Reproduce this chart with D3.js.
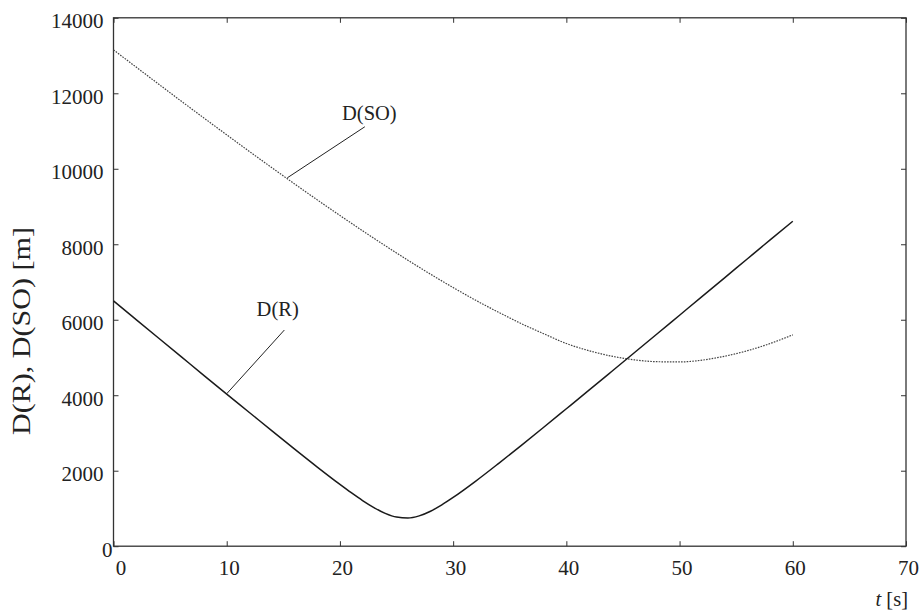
<!DOCTYPE html>
<html>
<head>
<meta charset="utf-8">
<script src="https://cdn.jsdelivr.net/npm/d3@7"></script>
<style>
  html, body { margin: 0; padding: 0; background: #fff; }
  svg { display: block; }
  text { font-family: "Liberation Serif", "DejaVu Serif", serif; fill: #222; }
</style>
</head>
<body>
<svg id="chart" width="923" height="612"></svg>
<script>
// ---- data ----
const tR = [0,2,4,6,8,10,12,14,16,18,20,21,22,23,24,25,26,27,28,29,30,32,34,36,38,40,42,44,46,48,50,52,54,56,58,60];
const dR = [6500,6005,5510,5015,4520,4030,3543,3054,2570,2095,1636,1417,1210,1024,871,772,747,804,927,1095,1291,1725,2189,2666,3151,3642,4134,4629,5125,5622,6120,6618,7117,7617,8116,8610];

const tSO = [0,2,4,6,8,10,12,14,16,18,20,22,24,26,28,30,32,34,36,38,40,42,44,46,48,50,52,54,56,58,60];
const dSO = [13150,12694,12240,11788,11342,10899,10459,10026,9597,9176,8763,8357,7962,7578,7207,6853,6515,6200,5900,5630,5370,5180,5035,4938,4888,4882,4930,5035,5180,5370,5600];

const xTicks = [0,10,20,30,40,50,60,70];
const yTicks = [0,2000,4000,6000,8000,10000,12000,14000];

const annLabels   = ["D(SO)", "D(R)"];
const annTextT    = [22.6, 14.5];
const annTextV    = [11290, 6098];
const annStartT   = [22.2, 15.09];
const annStartV   = [11113, 5727];
const annAnchorT  = [15.35, 10];
const annAnchorV  = [9760, 4040];

const xLabel = "t";
const xUnit = " [s]";
const yLabel = "D(R), D(SO) [m]";

// ---- layout ----
const svg = d3.select("#chart");
const x = d3.scaleLinear().domain([0, 70]).range([113.5, 906]);
const y = d3.scaleLinear().domain([0, 14000]).range([546.2, 17.8]);
const FS = 20.5;
const TFS = 21;
const fam = '"Liberation Serif", "DejaVu Serif", serif';

const g = svg.append("g");

// box
g.append("rect")
  .attr("x", x(0)).attr("y", y(14000))
  .attr("width", x(70) - x(0)).attr("height", y(0) - y(14000))
  .attr("fill", "none").attr("stroke", "#333").attr("stroke-width", 1.3);

// axes (inward ticks)
const xb = g.append("g").attr("transform", `translate(0,${y(0)})`)
  .call(d3.axisBottom(x).tickValues(xTicks).tickSizeInner(-5).tickSizeOuter(0).tickFormat(d3.format("d")));
const xt = g.append("g").attr("transform", `translate(0,${y(14000)})`)
  .call(d3.axisTop(x).tickValues(xTicks).tickSizeInner(-5).tickSizeOuter(0).tickFormat(""));
const yl = g.append("g").attr("transform", `translate(${x(0)},0)`)
  .call(d3.axisLeft(y).tickValues(yTicks).tickSizeInner(-5).tickSizeOuter(0).tickFormat(d3.format("d")));
const yr = g.append("g").attr("transform", `translate(${x(70)},0)`)
  .call(d3.axisRight(y).tickValues(yTicks).tickSizeInner(-5).tickSizeOuter(0).tickFormat(""));

[xb, xt, yl, yr].forEach(a => {
  a.attr("font-family", fam);
  a.select(".domain").remove();
  a.selectAll(".tick line").attr("stroke", "#333").attr("stroke-width", 1);
});

xb.selectAll(".tick text")
  .attr("y", 29).attr("dy", 0)
  .attr("dx", d => d === 0 ? 7 : 2)
  .attr("font-size", TFS).attr("fill", "#222")
  .style("font-family", fam);

yl.selectAll(".tick text")
  .attr("x", d => d === 0 ? -1 : -10).attr("dy", 0).attr("y", 10)
  .attr("font-size", TFS).attr("fill", "#222")
  .style("font-family", fam);

// series
const line = d3.line().x(d => x(d[0])).y(d => y(d[1])).curve(d3.curveMonotoneX);

g.append("path")
  .datum(d3.zip(tSO, dSO))
  .attr("d", line)
  .attr("fill", "none")
  .attr("stroke", "#444")
  .attr("stroke-width", 1.2)
  .attr("stroke-dasharray", "1.6,1.2");

g.append("path")
  .datum(d3.zip(tR, dR))
  .attr("d", line)
  .attr("fill", "none")
  .attr("stroke", "#1a1a1a")
  .attr("stroke-width", 1.5);

// annotations
annLabels.forEach((lab, i) => {
  g.append("line")
    .attr("x1", x(annStartT[i])).attr("y1", y(annStartV[i]))
    .attr("x2", x(annAnchorT[i])).attr("y2", y(annAnchorV[i]))
    .attr("stroke", "#222").attr("stroke-width", 1);
  g.append("text")
    .attr("x", x(annTextT[i])).attr("y", y(annTextV[i]))
    .attr("text-anchor", "middle")
    .attr("font-size", FS)
    .text(lab);
});

// axis titles
const xt2 = svg.append("text")
  .attr("x", 908).attr("y", 606)
  .attr("text-anchor", "end")
  .attr("font-size", FS);
xt2.append("tspan").attr("font-style", "italic").text(xLabel);
xt2.append("tspan").text(xUnit);

svg.append("text")
  .attr("transform", "translate(30,331) rotate(-90)")
  .attr("text-anchor", "middle")
  .attr("font-size", 25)
  .attr("textLength", 208)
  .attr("lengthAdjust", "spacingAndGlyphs")
  .text(yLabel);
</script>
</body>
</html>
